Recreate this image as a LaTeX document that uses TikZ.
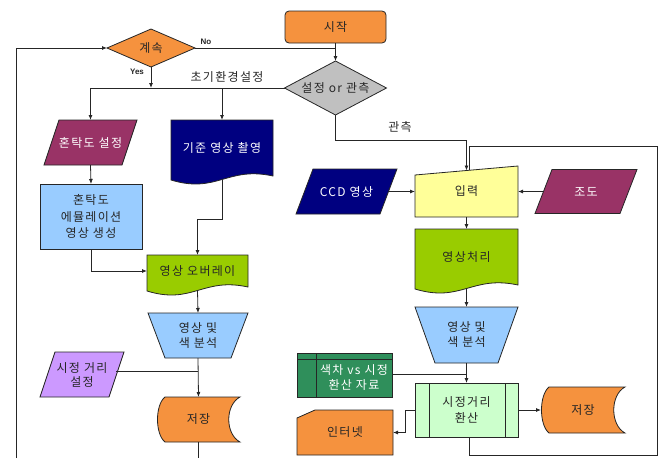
\documentclass[tikz,border=0pt]{standalone}
\usepackage{fontspec}
\setmainfont[LetterSpace=11]{Noto Sans CJK KR}
\newfontfamily\latinsans{Liberation Sans}
\usetikzlibrary{arrows.meta,calc,backgrounds}
\definecolor{cOrange}{HTML}{F5923E}
\definecolor{cGray}{HTML}{C0C0C0}
\definecolor{cMag}{HTML}{993366}
\definecolor{cNavy}{HTML}{000080}
\definecolor{cLBlue}{HTML}{99CCFF}
\definecolor{cGreen}{HTML}{99CC00}
\definecolor{cLav}{HTML}{CC99FF}
\definecolor{cYel}{HTML}{FFFF99}
\definecolor{cDGreen}{HTML}{2F8F5B}
\definecolor{cLGreen}{HTML}{CCFFCC}
\definecolor{cLine}{HTML}{262626}
\begin{document}
\begin{tikzpicture}[x=1pt,y=-1pt,
  bx/.style={inner sep=0pt, outer sep=0pt, align=center, text=black!85,
    font=\fontsize{12}{15}\selectfont},
  wtxt/.style={text=white},
  shp/.style={draw=cLine, line width=0.8pt},
  ln/.style={draw=cLine, line width=0.8pt},
  arr/.style={ln, -{Latex[length=5pt,width=4pt]}},
  lbl/.style={inner sep=0pt, text=black!85, font=\fontsize{12}{14}\selectfont},
  yn/.style={inner sep=0pt, text=black!85, font=\latinsans\bfseries\fontsize{8}{9}\selectfont}]
\useasboundingbox (0,0) rectangle (664,458);

% nodes
\node[bx, minimum width=101pt, minimum height=32pt, draw=cLine, line width=0.8pt,
      fill=cOrange, rounded corners=4pt] (start) at (335.5,27) {시작};
\node[bx, minimum width=102pt, minimum height=54pt] (sel) at (335.5,88) {설정 or 관측};
\node[bx, minimum width=88pt, minimum height=38pt] (cont) at (151,48) {계속};
\node[bx, wtxt, minimum width=93pt, minimum height=45pt] (set1) at (90.5,142.5) {혼탁도 설정};
\node[bx, minimum width=102pt, minimum height=65pt, draw=cLine, line width=0.8pt,
      fill=cLBlue, font=\fontsize{12}{16.5}\selectfont] (emu) at (91,216.5) {혼탁도\\에뮬레이션\\영상 생성};
\node[bx, wtxt, minimum width=102pt, minimum height=56pt] (ref) at (222,148) {기준 영상 촬영};
\node[bx, minimum width=101pt, minimum height=32pt] (ovl) at (197.5,271) {영상 오버레이};
\node[bx, minimum width=100pt, minimum height=45pt] (an1) at (198,335.5) {영상 및\\색 분석};
\node[bx, minimum width=84pt, minimum height=45pt, font=\fontsize{12}{14}\selectfont] (vis) at (82,374.5) {시정 거리\\설정};
\node[bx, minimum width=83pt, minimum height=45pt] (sto1) at (198.5,419.5) {저장};
\node[bx, wtxt, minimum width=101pt, minimum height=45pt] (ccd) at (346.5,191.5) {CCD 영상};
\node[bx, minimum width=103pt, minimum height=51pt] (inp) at (466.5,191.5) {입력};
\node[bx, wtxt, minimum width=102pt, minimum height=44pt] (illum) at (586,191.5) {조도};
\node[bx, minimum width=103pt, minimum height=56pt] (proc) at (466.5,257) {영상처리};
\node[bx, minimum width=103pt, minimum height=56pt] (an2) at (466.5,335) {영상 및\\색 분석};
\node[bx, wtxt, minimum width=76pt, minimum height=38pt] (db) at (354,378) {색차 vs 시정\\환산 자료};
\node[bx, minimum width=103pt, minimum height=54pt, font=\fontsize{12}{16}\selectfont] (conv) at (466.5,410) {시정거리\\환산};
\node[bx, minimum width=84pt, minimum height=46pt] (sto2) at (583,410) {저장};
\node[bx, minimum width=96pt, minimum height=45pt] (net) at (345,432.5) {인터넷};

% labels
\node[lbl] (lblinit) at (227,77) {초기환경설정};
\node[lbl] (lblobs) at (400,127) {관측};
\node[yn] (lblno) at (206,42) {No};
\node[yn] (lblyes) at (137,72) {Yes};

% shape outlines
\begin{scope}[on background layer]
\draw[shp, fill=cGray] (sel.north) -- (sel.east) -- (sel.south) -- (sel.west) -- cycle;
\draw[shp, fill=cOrange] (cont.north) -- (cont.east) -- (cont.south) -- (cont.west) -- cycle;
\draw[shp, fill=cMag] (set1.south west) -- ($(set1.north west)+(15,0)$) -- (set1.north east) -- ($(set1.south east)+(-15,0)$) -- cycle;
\draw[shp, fill=cLav] (vis.south west) -- ($(vis.north west)+(15,0)$) -- (vis.north east) -- ($(vis.south east)+(-15,0)$) -- cycle;
\draw[shp, fill=cNavy] (ccd.south west) -- ($(ccd.north west)+(17,0)$) -- (ccd.north east) -- ($(ccd.south east)+(-17,0)$) -- cycle;
\draw[shp, fill=cMag] (illum.south west) -- ($(illum.north west)+(17,0)$) -- (illum.north east) -- ($(illum.south east)+(-17,0)$) -- cycle;
\draw[shp, fill=cNavy] (ref.north west) -- (ref.north east) -- (ref.south east)
  .. controls ($(ref.south west)!0.55!(ref.south east)+(0,-10)$) and ($(ref.south west)!0.45!(ref.south east)+(0,18)$)
  .. ($(ref.south west)+(0,4)$) -- cycle;
\draw[shp, fill=cGreen] (ovl.north west) -- (ovl.north east) -- (ovl.south east)
  .. controls ($(ovl.south west)!0.55!(ovl.south east)+(0,-10)$) and ($(ovl.south west)!0.45!(ovl.south east)+(0,18)$)
  .. ($(ovl.south west)+(0,4)$) -- cycle;
\draw[shp, fill=cGreen] (proc.north west) -- (proc.north east) -- (proc.south east)
  .. controls ($(proc.south west)!0.55!(proc.south east)+(0,-10)$) and ($(proc.south west)!0.45!(proc.south east)+(0,18)$)
  .. ($(proc.south west)+(0,4)$) -- cycle;
\draw[shp, fill=cLBlue] (an1.north west) -- (an1.north east) -- ($(an1.south east)+(-17,0)$) -- ($(an1.south west)+(17,0)$) -- cycle;
\draw[shp, fill=cLBlue] (an2.north west) -- (an2.north east) -- ($(an2.south east)+(-20,0)$) -- ($(an2.south west)+(20,0)$) -- cycle;
\draw[shp, fill=cYel] (inp.south west) -- ($(inp.north west)+(0,9)$) -- (inp.north east) -- (inp.south east) -- cycle;
\draw[shp, fill=cDGreen] ($(db.north west)+(-19,-6)$) rectangle (db.south east);
\draw[shp] ($(db.north west)+(-19,0)$) -- (db.north east);
\draw[shp] ($(db.north west)+(0,-6)$) -- (db.south west);
\draw[shp, fill=cLGreen] (conv.north west) rectangle (conv.south east);
\draw[shp] ($(conv.north west)+(14,0)$) -- ($(conv.south west)+(14,0)$);
\draw[shp] ($(conv.north east)+(-13,0)$) -- ($(conv.south east)+(-13,0)$);
\draw[shp, fill=cOrange] ($(sto1.north west)+(8,0)$) -- (sto1.north east)
  .. controls ($(sto1.north east)+(-15,8)$) and ($(sto1.south east)+(-15,-8)$) .. (sto1.south east)
  -- ($(sto1.south west)+(8,0)$)
  .. controls ($(sto1.south west)+(-2,-8)$) and ($(sto1.north west)+(-2,8)$) .. ($(sto1.north west)+(8,0)$) -- cycle;
\draw[shp, fill=cOrange] ($(sto2.north west)+(8,0)$) -- (sto2.north east)
  .. controls ($(sto2.north east)+(-15,8)$) and ($(sto2.south east)+(-15,-8)$) .. (sto2.south east)
  -- ($(sto2.south west)+(8,0)$)
  .. controls ($(sto2.south west)+(-2,-8)$) and ($(sto2.north west)+(-2,8)$) .. ($(sto2.north west)+(8,0)$) -- cycle;
\draw[shp, fill=cOrange] ($(net.north west)+(18,0)$) -- (net.north east) -- (net.south east) -- (net.south west) -- ($(net.north west)+(0,8)$) -- cycle;
\end{scope}

% helper coordinates
\coordinate (refb) at ($(ref.south)+(0,3.5)$);
\coordinate (ovlb) at ($(ovl.south)+(0,3.5)$);
\coordinate (procb) at ($(proc.south)+(0,3.5)$);
\coordinate (inpt) at ($(inp.north)+(0,4.5)$);
\coordinate (inpt2) at ($(inp.north)+(3,4.3)$);
\coordinate (visr) at ($(vis.east)+(-8,-3.5)$);
\coordinate (ccdr) at ($(ccd.east)+(-8.5,0)$);
\coordinate (illl) at ($(illum.west)+(8.5,0)$);
\coordinate (dbr) at ($(db.east)+(0,-4)$);
\coordinate (convb) at ($(conv.south)+(2.5,0)$);
\coordinate (lloop) at (16,458);
\coordinate (sto1end) at (198.5,458);
\coordinate (rbot) at (657,455);
\coordinate (rtop) at (657,146);

% connectors
\draw[arr] (start.south) -- (sel.north);
\draw[ln] (cont.east) -- (cont.east -| start.south);
\draw[arr] (lloop) |- (cont.west);
\draw[arr] (cont.south) -- (cont.south |- sel.west);
\draw[arr] (sel.west) -| (set1.north);
\draw[arr] (ref.north |- sel.west) -- (ref.north);
\draw[arr] (set1.south) -- (emu.north);
\draw[arr] (emu.south) |- (ovl.west);
\draw[arr] (refb) -- ++(0,40) -| (ovl.north);
\draw[arr] (ovlb) -- (an1.north);
\draw[arr] (an1.south) -- (sto1.north);
\draw[ln] (visr) -- (visr -| an1.south);
\draw[ln] (sto1.south) -- (sto1end);
\draw[arr] (sel.south) -- ++(0,25) -| (inpt);
\draw[ln] (convb) |- (rbot) -- (rtop) -| (inpt2);
\draw[arr] (ccdr) -- (inp.west);
\draw[arr] (illl) -- (inp.east);
\draw[arr] (inp.south) -- (proc.north);
\draw[arr] (procb) -- (an2.north);
\draw[arr] (an2.south) -- (conv.north);
\draw[ln] (dbr) -- (dbr -| conv.north);
\draw[arr] (conv.east) -- (sto2.west);
\draw[arr] (conv.west) -- ++(-10,0) |- (net.east);
\end{tikzpicture}
\end{document}
